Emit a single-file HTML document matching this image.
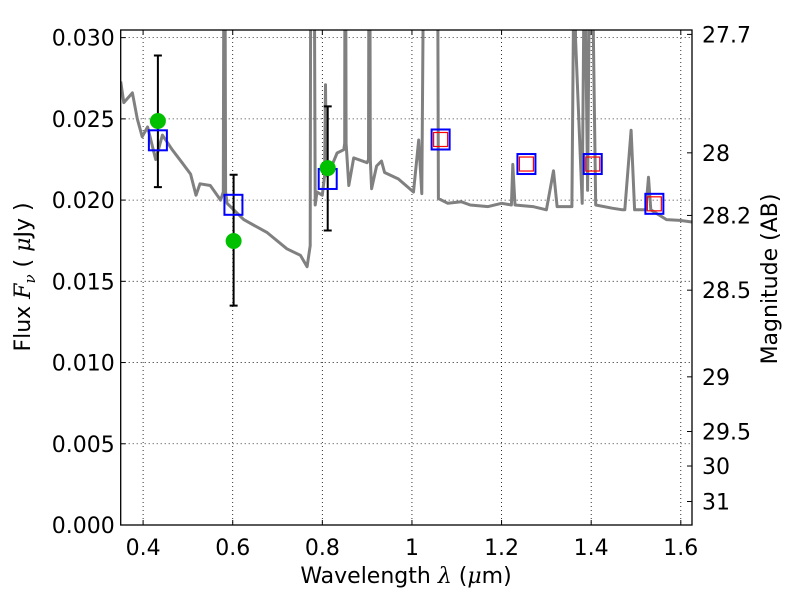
<!DOCTYPE html>
<html><head><meta charset="utf-8"><style>
html,body{margin:0;padding:0;background:#fff;}
svg text{font-family:"DejaVu Sans","Liberation Sans",sans-serif;fill:#000;}
</style></head><body>
<svg id="chart" width="800" height="600" viewBox="0 0 800 600" xmlns="http://www.w3.org/2000/svg">
<defs><clipPath id="clip"><rect x="120.7" y="30" width="571.3" height="495"/></clipPath></defs>
<g id="grid"></g>
<g id="spec" clip-path="url(#clip)"></g>
<g id="marks"></g>
<rect x="120.7" y="30" width="571.3" height="495" fill="none" stroke="#000" stroke-width="1.3"/>
<g id="axes"></g>
<text x="406" y="583" font-size="22" text-anchor="middle">Wavelength  <tspan font-family="DejaVu Serif" font-style="italic">λ</tspan> (<tspan font-family="DejaVu Serif" font-style="italic">μ</tspan>m)</text>
<text transform="translate(30,277) rotate(-90)" font-size="22" text-anchor="middle">Flux  <tspan font-family="DejaVu Serif" font-style="italic">F</tspan><tspan font-family="DejaVu Serif" font-style="italic" font-size="15" dy="5">ν</tspan><tspan dy="-5">   (  </tspan><tspan font-family="DejaVu Serif" font-style="italic">μ</tspan>Jy )</text>
<text transform="translate(777,279) rotate(-90)" font-size="22" text-anchor="middle">Magnitude (AB)</text>
</svg>
<script>
const xTicks=[0.4,0.6,0.8,1.0,1.2,1.4,1.6];
const xTickLabels=["0.4","0.6","0.8","1","1.2","1.4","1.6"];
const yTicks=[0,0.005,0.010,0.015,0.020,0.025,0.030];
const yTickLabels=["0.000","0.005","0.010","0.015","0.020","0.025","0.030"];
const magTicks=[27.7,28,28.2,28.5,29,29.5,30,31];
const magTickLabels=["27.7","28","28.2","28.5","29","29.5","30","31"];
const specWave=[0.35,0.357,0.376,0.387,0.398,0.41,0.428,0.443,0.465,0.487,0.506,0.518,0.527,0.55,0.573,0.579,0.5815,0.584,0.5875,0.6245,0.677,0.721,0.751,0.766,0.773,0.775,0.780,0.784,0.788,0.80,0.805,0.807,0.809,0.812,0.833,0.848,0.850,0.851,0.853,0.859,0.870,0.900,0.903,0.905,0.907,0.910,0.921,0.932,0.939,0.970,0.974,1.0035,1.015,1.022,1.03,1.056,1.058,1.059,1.08,1.11,1.13,1.17,1.2,1.222,1.225,1.23,1.27,1.30,1.316,1.324,1.357,1.360,1.362,1.365,1.38,1.383,1.385,1.388,1.392,1.395,1.397,1.400,1.405,1.41,1.447,1.47,1.475,1.489,1.497,1.522,1.528,1.533,1.568,1.598,1.625];
const specFlux=[0.0273,0.0260,0.0266,0.0250,0.0239,0.0245,0.0225,0.0240,0.0231,0.0223,0.0216,0.0203,0.0210,0.0209,0.0200,0.0205,0.05,0.0205,0.0198,0.0188,0.0180,0.0170,0.0166,0.0159,0.0172,0.05,0.05,0.0197,0.0205,0.0203,0.0215,0.0271,0.0215,0.0215,0.0229,0.0231,0.0235,0.05,0.0235,0.0209,0.0226,0.0223,0.0225,0.05,0.0225,0.0207,0.0221,0.0224,0.0217,0.0213,0.0212,0.0205,0.0237,0.0204,0.05,0.05,0.03,0.0201,0.0198,0.0199,0.0197,0.0196,0.0198,0.0197,0.0222,0.0197,0.0196,0.0194,0.0218,0.0196,0.0196,0.03,0.05,0.03,0.0198,0.03,0.05,0.03,0.0206,0.03,0.05,0.05,0.03,0.0197,0.0195,0.0194,0.0194,0.0243,0.0194,0.0194,0.0214,0.0194,0.0188,0.01875,0.01865];
const obsWave=[0.433,0.602,0.812];
const obsFlux=[0.02487,0.01748,0.02197];
const obsErrHi=[0.0289,0.02156,0.02577];
const obsErrLo=[0.0208,0.0135,0.01813];
const modelWave=[0.433,0.6016,0.812,1.064,1.2555,1.4035,1.541];
const modelFlux=[0.02368,0.01971,0.0213,0.02373,0.02222,0.02222,0.01977];
const redWave=[1.064,1.2555,1.4035,1.541];
const redFlux=[0.02373,0.02222,0.02222,0.01977];

const X0=120.7,X1=692,Y0=525,Y1=30,xmin=0.35,xmax=1.625,ymin=0,ymax=0.03047;
const sx=v=>X0+(v-xmin)/(xmax-xmin)*(X1-X0);
const sy=v=>Y0-(v-ymin)/(ymax-ymin)*(Y0-Y1);
const magToFlux=m=>Math.pow(10,(23.9-m)/2.5);
const NS="http://www.w3.org/2000/svg";
function mk(tag,parent,attrs){const e=document.createElementNS(NS,tag);for(const k in attrs)e.setAttribute(k,attrs[k]);parent.appendChild(e);return e;}
const grid=document.getElementById('grid'),axes=document.getElementById('axes'),spec=document.getElementById('spec'),marks=document.getElementById('marks');
xTicks.forEach((t,i)=>{const x=sx(t);
 const g=mk('line',grid,{x1:x,x2:x,y1:Y1,y2:Y0,stroke:'#000','stroke-width':0.8,'stroke-dasharray':'1,3'});
 
 
 mk('line',axes,{x1:x,x2:x,y1:Y0,y2:Y0-5,stroke:'#000'});
 mk('line',axes,{x1:x,x2:x,y1:Y1,y2:Y1+5,stroke:'#000'});
 const l=mk('text',axes,{x:x,y:Y0+30,'font-size':22,'text-anchor':'middle'});l.textContent=xTickLabels[i];
 
 
});
yTicks.forEach((t,i)=>{const y=sy(t);
 const g=mk('line',grid,{x1:X0,x2:X1,y1:y,y2:y,stroke:'#000','stroke-width':0.8,'stroke-dasharray':'1,3'});
 
 
 mk('line',axes,{x1:X0,x2:X0+5,y1:y,y2:y,stroke:'#000'});
 const l=mk('text',axes,{x:X0-6,y:y+8,'font-size':22,'text-anchor':'end'});l.textContent=yTickLabels[i];
 
 
});
magTicks.forEach((m,i)=>{const y=sy(magToFlux(m));
 mk('line',axes,{x1:X1,x2:X1-5,y1:y,y2:y,stroke:'#000'});
 const l=mk('text',axes,{x:X1+10,y:y+8,'font-size':22,'text-anchor':'start'});l.textContent=magTickLabels[i];
 
 
});
const p=mk('path',spec,{d:specWave.map((w,i)=>(i?'L':'M')+sx(w).toFixed(1)+','+sy(specFlux[i]).toFixed(1)).join(''),fill:'none',stroke:'#808080','stroke-width':3,'stroke-linejoin':'round'});


obsWave.forEach((w,i)=>{const x=sx(w);
 const e=mk('path',marks,{d:`M${x},${sy(obsErrHi[i])}V${sy(obsErrLo[i])}M${x-4},${sy(obsErrHi[i])}h8M${x-4},${sy(obsErrLo[i])}h8`,stroke:'#000','stroke-width':2,fill:'none'});
 
 
});
modelWave.forEach((w,i)=>{
 const r=mk('rect',marks,{x:sx(w)-9,y:sy(modelFlux[i])-10,width:18,height:20,fill:'none',stroke:'#0000ff','stroke-width':2});
 
 
});
redWave.forEach((w,i)=>{
 const r=mk('rect',marks,{x:sx(w)-7,y:sy(redFlux[i])-7,width:14,height:14,fill:'none',stroke:'#ff0000','stroke-width':1.2});
 
 
});
obsWave.forEach((w,i)=>{
 const c=mk('circle',marks,{cx:sx(w),cy:sy(obsFlux[i]),r:8,fill:'#00c000'});
 
 
});
</script>
</body></html>
